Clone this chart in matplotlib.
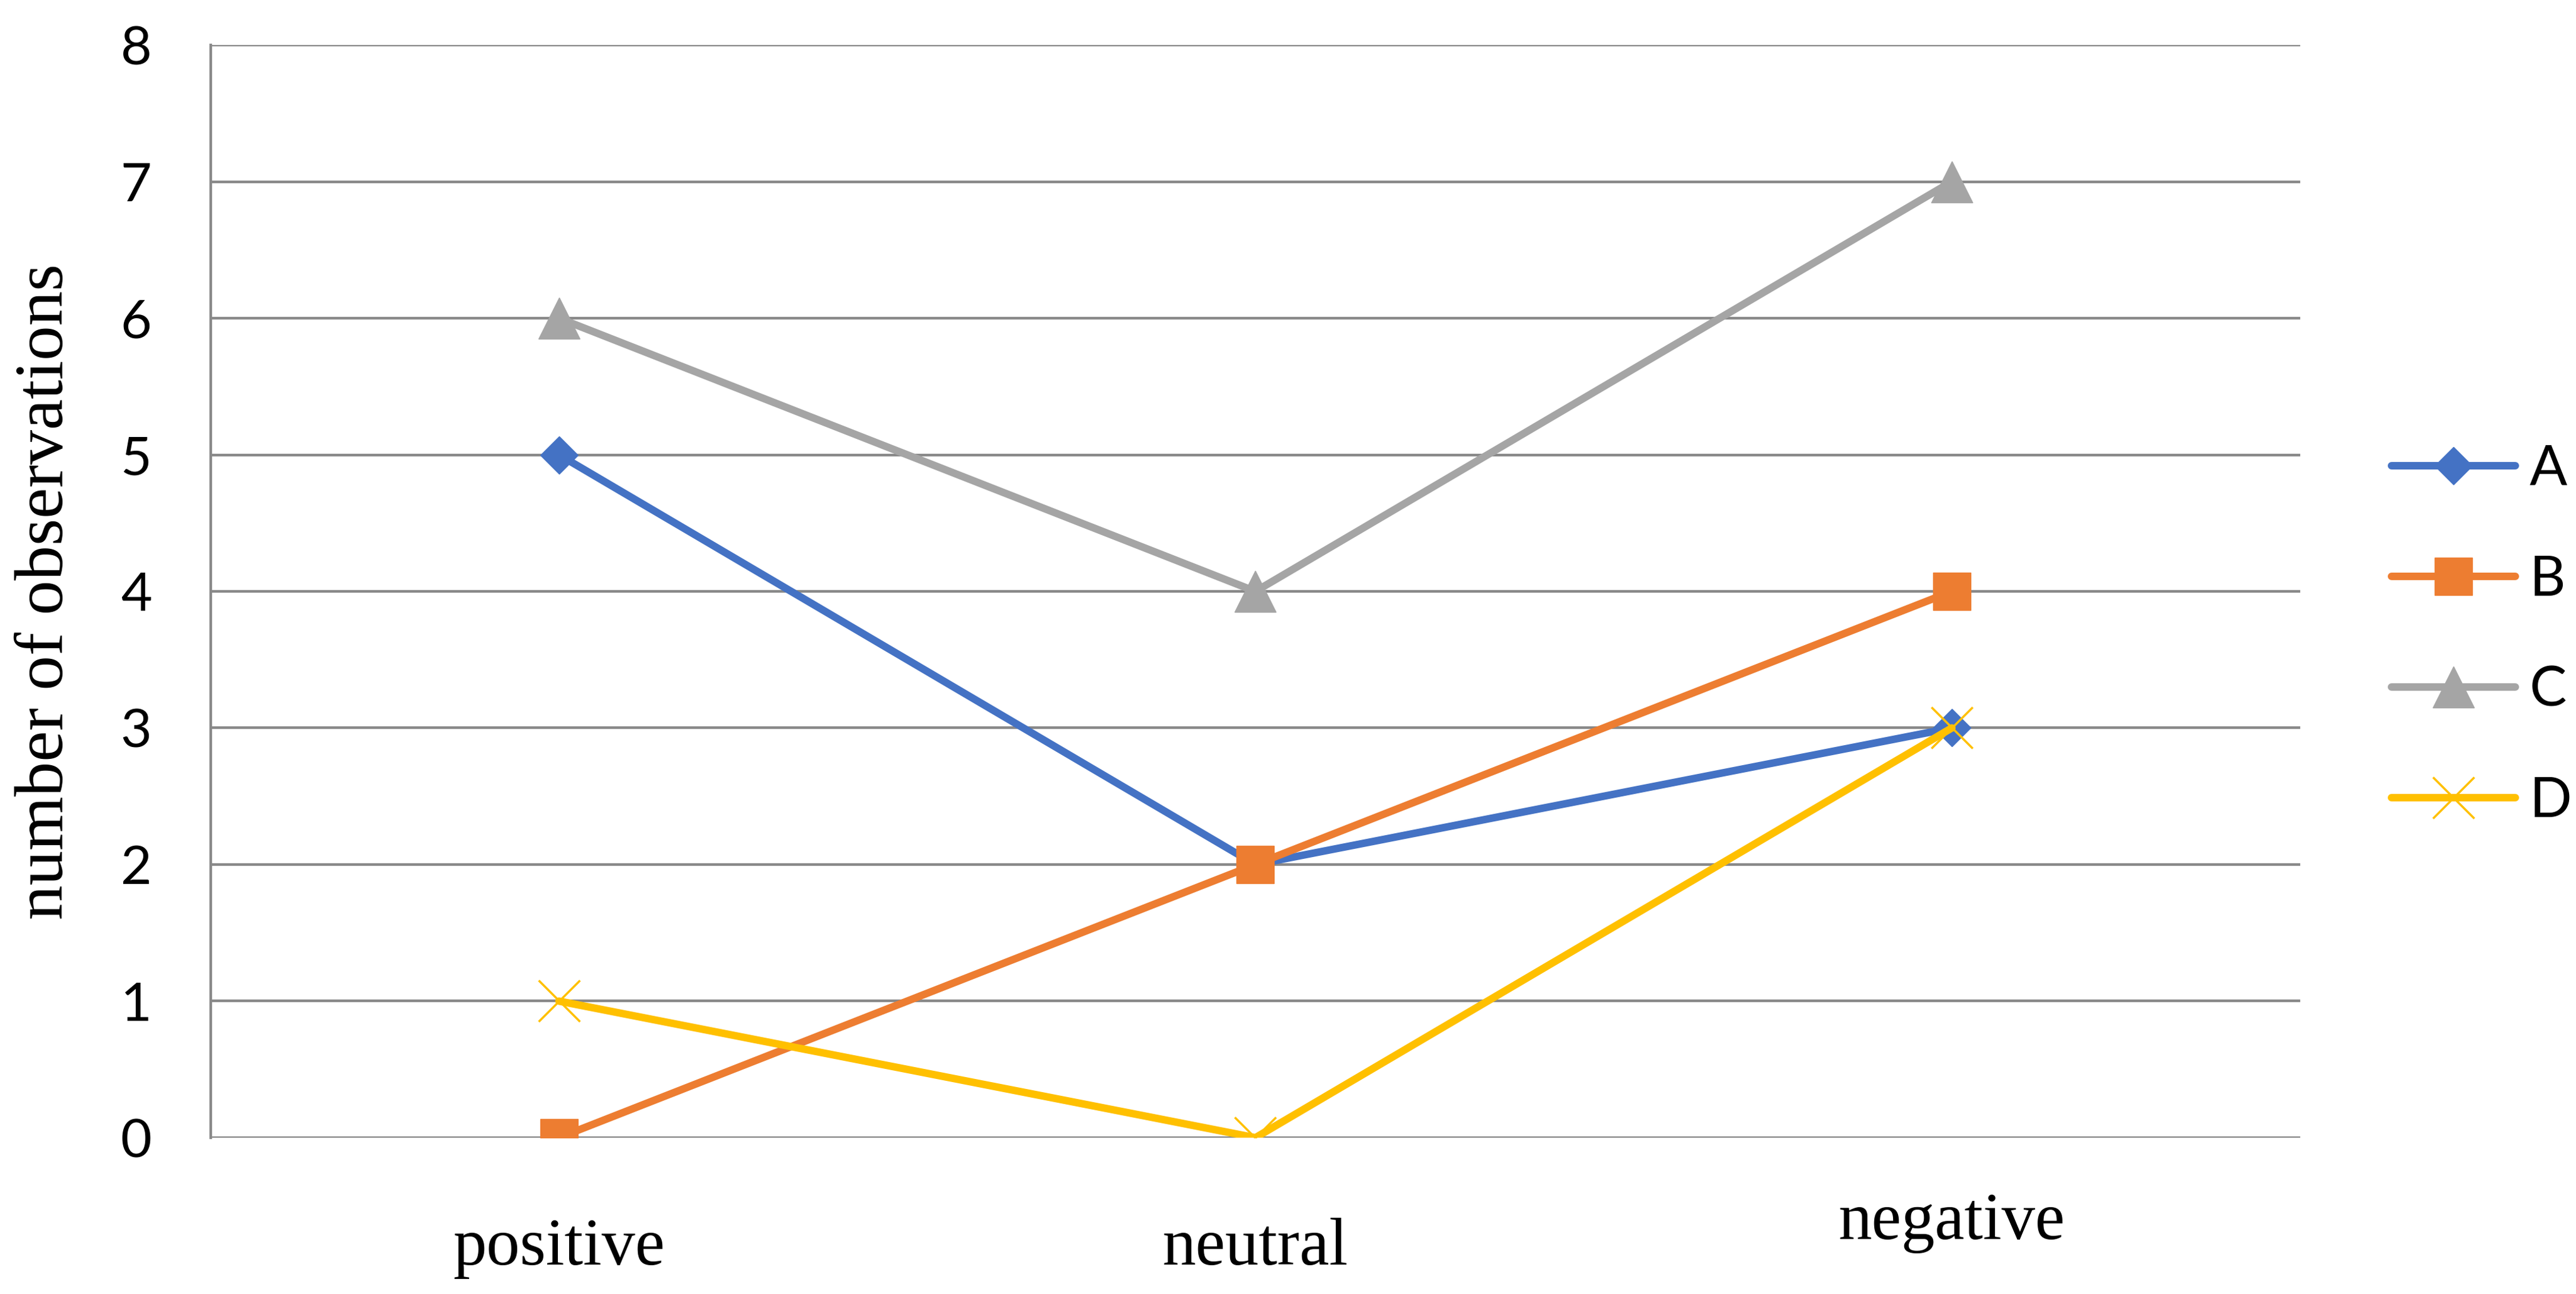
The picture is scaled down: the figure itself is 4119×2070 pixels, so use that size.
import matplotlib
matplotlib.use("Agg")
import matplotlib.pyplot as plt
from matplotlib.transforms import ScaledTranslation

categories = ["positive", "neutral", "negative"]
series_names = ["A", "B", "C", "D"]
A = [5, 2, 3]
B = [0, 2, 4]
C = [6, 4, 7]
D = [1, 0, 3]
y_ticks = [0, 1, 2, 3, 4, 5, 6, 7, 8]

colors = ["#4472C4", "#ED7D31", "#A5A5A5", "#FFC000"]
markers = ["D", "s", "^", "x"]
msizes = [31, 43, 47, 47]
mews = [1, 1, 1, 2.5]

fig = plt.figure(figsize=(41.19, 20.70), dpi=100)
ax = fig.add_axes([0.0818, 0.1208, 0.8111, 0.8444])

x = list(range(len(categories)))
for name, vals, c, m, ms, mew in zip(series_names, [A, B, C, D], colors, markers, msizes, mews):
    ax.plot(x, vals, color=c, lw=8.6, marker=m, markersize=ms,
            markerfacecolor=c, markeredgecolor=c, markeredgewidth=mew,
            label=name, solid_capstyle="round", zorder=3)

ax.set_xlim(-0.5, 2.5)
ax.set_ylim(0, 8)
ax.set_yticks(y_ticks)
ax.set_xticks(x)
ax.set_xticklabels(categories, family="Liberation Serif", fontsize=77)
ax.tick_params(axis="x", length=0, pad=92)
ax.tick_params(axis="y", length=0, pad=68, labelsize=62)
for lbl in ax.get_yticklabels():
    lbl.set_family("Lato")
ax.yaxis.grid(True, color="#898989", lw=3.1)
ax.set_axisbelow(True)
for s in ["top", "right", "bottom"]:
    ax.spines[s].set_visible(False)
ax.spines["left"].set_color("#898989")
ax.spines["left"].set_linewidth(3.1)

ax.set_ylabel("number of observations", family="Liberation Serif", fontsize=80, labelpad=50)

leg = fig.legend(loc="center left", bbox_to_anchor=(0.9284, 0.509), frameon=False,
                 handlelength=2.23, handletextpad=0.25, labelspacing=1.07,
                 borderpad=0, borderaxespad=0, prop={"family": "Lato", "size": 64})

fig.canvas.draw()
neg = ax.get_xticklabels()[2]
neg.set_transform(neg.get_transform() + ScaledTranslation(0, 29 / 72, fig.dpi_scale_trans))

fig.savefig("out.png", dpi=100)
